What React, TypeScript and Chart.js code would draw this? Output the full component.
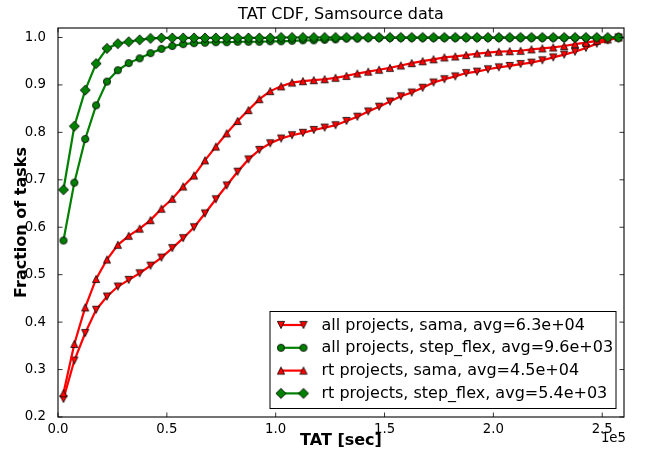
import React, { useEffect, useRef } from "react";
import { Chart, registerables } from "chart.js";

Chart.register(...registerables);

const TAT_SEC = [
  2500, 7500, 12500, 17500, 22500, 27500, 32500, 37500, 42500, 47500,
  52500, 57500, 62500, 67500, 72500, 77500, 82500, 87500, 92500, 97500,
  102500, 107500, 112500, 117500, 122500, 127500, 132500, 137500, 142500, 147500,
  152500, 157500, 162500, 167500, 172500, 177500, 182500, 187500, 192500, 197500,
  202500, 207500, 212500, 217500, 222500, 227500, 232500, 237500, 242500, 247500,
  252500, 257500,
];

const ALL_SAMA = [
  0.238, 0.319, 0.377, 0.426, 0.454, 0.475, 0.489, 0.503, 0.519, 0.536,
  0.556, 0.577, 0.600, 0.629, 0.659, 0.688, 0.717, 0.743, 0.763, 0.777,
  0.787, 0.794, 0.799, 0.805, 0.810, 0.815, 0.824, 0.833, 0.844, 0.854,
  0.865, 0.876, 0.884, 0.894, 0.905, 0.912, 0.918, 0.925, 0.928, 0.933,
  0.937, 0.940, 0.944, 0.947, 0.952, 0.958, 0.964, 0.970, 0.978, 0.987,
  0.994, 1.0,
];

const ALL_STEP_FLEX = [
  0.572, 0.694, 0.786, 0.857, 0.907, 0.931, 0.946, 0.956, 0.967, 0.976,
  0.982, 0.986, 0.988, 0.989, 0.990, 0.990, 0.991, 0.991, 0.991, 0.992,
  0.992, 0.993, 0.994, 0.994, 0.995, 0.996, 0.998, 0.998, 0.999, 0.999,
  0.999, 0.999, 0.999, 0.999, 0.999, 0.999, 0.999, 0.999, 0.999, 0.999,
  0.999, 0.999, 0.999, 0.999, 0.999, 0.999, 0.999, 0.999, 0.999, 0.999,
  0.999, 1.0,
];

const RT_SAMA = [
  0.250, 0.354, 0.431, 0.491, 0.532, 0.563, 0.582, 0.597, 0.615, 0.639,
  0.660, 0.686, 0.709, 0.741, 0.770, 0.798, 0.824, 0.847, 0.870, 0.887,
  0.897, 0.905, 0.908, 0.910, 0.912, 0.915, 0.919, 0.924, 0.928, 0.932,
  0.936, 0.941, 0.946, 0.950, 0.954, 0.958, 0.960, 0.963, 0.966, 0.968,
  0.970, 0.971, 0.972, 0.975, 0.977, 0.979, 0.982, 0.986, 0.989, 0.993,
  0.996, 1.0,
];

const RT_STEP_FLEX = [
  0.679, 0.813, 0.889, 0.945, 0.977, 0.987, 0.991, 0.995, 0.998, 0.999,
  0.999, 0.999, 0.999, 0.999, 0.999, 0.999, 0.999, 0.999, 0.999, 0.999,
  1.0, 1.0, 1.0, 1.0, 1.0, 1.0, 1.0, 1.0, 1.0, 1.0,
  1.0, 1.0, 1.0, 1.0, 1.0, 1.0, 1.0, 1.0, 1.0, 1.0,
  1.0, 1.0, 1.0, 1.0, 1.0, 1.0, 1.0, 1.0, 1.0, 1.0,
  1.0, 1.0,
];

const SERIES_LABELS = [
  "all projects, sama, avg=6.3e+04",
  "all projects, step_flex, avg=9.6e+03",
  "rt projects, sama, avg=4.5e+04",
  "rt projects, step_flex, avg=5.4e+03",
];

const X_TICKS = [0, 50000, 100000, 150000, 200000, 250000];
const Y_TICKS = [0.2, 0.3, 0.4, 0.5, 0.6, 0.7, 0.8, 0.9, 1.0];

const TITLE = "TAT CDF, Samsource data";
const X_LABEL = "TAT [sec]";
const Y_LABEL = "Fraction of tasks";
const X_OFFSET_TEXT = "1e5";

const RED = "#ff0000";
const GREEN = "#008000";
const FONT = "'DejaVu Sans', sans-serif";

function makeMarker(kind: string, fill: string): HTMLCanvasElement {
  const size = 14;
  const c = document.createElement("canvas");
  c.width = size;
  c.height = size;
  const g = c.getContext("2d")!;
  const cx = size / 2;
  const cy = size / 2;
  const ms = 7.2;
  g.beginPath();
  if (kind === "tri_up") {
    g.moveTo(cx, cy - ms / 2);
    g.lineTo(cx + ms / 2, cy + ms / 2);
    g.lineTo(cx - ms / 2, cy + ms / 2);
    g.closePath();
  } else if (kind === "tri_down") {
    g.moveTo(cx, cy + ms / 2);
    g.lineTo(cx + ms / 2, cy - ms / 2);
    g.lineTo(cx - ms / 2, cy - ms / 2);
    g.closePath();
  } else if (kind === "circle") {
    g.arc(cx, cy, ms / 2, 0, Math.PI * 2);
  } else {
    const h = ms * Math.SQRT1_2;
    g.moveTo(cx, cy - h);
    g.lineTo(cx + h, cy);
    g.lineTo(cx, cy + h);
    g.lineTo(cx - h, cy);
    g.closePath();
  }
  g.fillStyle = fill;
  g.fill();
  g.lineWidth = 0.8;
  g.strokeStyle = "#000";
  g.stroke();
  return c;
}

export default function App() {
  const ref = useRef<HTMLCanvasElement | null>(null);

  useEffect(() => {
    const canvas = ref.current;
    if (!canvas) return;

    const markers = [
      makeMarker("tri_down", RED),
      makeMarker("circle", GREEN),
      makeMarker("tri_up", RED),
      makeMarker("diamond", GREEN),
    ];
    const colors = [RED, GREEN, RED, GREEN];
    const values = [ALL_SAMA, ALL_STEP_FLEX, RT_SAMA, RT_STEP_FLEX];

    const datasets = values.map((vals, k) => ({
      label: SERIES_LABELS[k],
      data: TAT_SEC.map((x, i) => ({ x, y: vals[i] })),
      borderColor: colors[k],
      backgroundColor: colors[k],
      borderWidth: 2.2,
      pointStyle: markers[k] as any,
      pointRadius: 4,
      tension: 0,
      order: 4 - k,
    }));

    const decor = {
      id: "decor",
      afterDraw(chart: any) {
        const ctx = chart.ctx as CanvasRenderingContext2D;
        const { left, right, top, bottom } = chart.chartArea;
        const xs = chart.scales.x;
        const ys = chart.scales.y;
        ctx.save();
        ctx.strokeStyle = "#000";
        ctx.lineWidth = 0.8;
        const tl = 4.5;
        ctx.beginPath();
        X_TICKS.forEach((v) => {
          const px = xs.getPixelForValue(v);
          ctx.moveTo(px, bottom);
          ctx.lineTo(px, bottom - tl);
          ctx.moveTo(px, top);
          ctx.lineTo(px, top + tl);
        });
        Y_TICKS.forEach((v) => {
          const py = ys.getPixelForValue(v);
          ctx.moveTo(left, py);
          ctx.lineTo(left + tl, py);
          ctx.moveTo(right, py);
          ctx.lineTo(right - tl, py);
        });
        ctx.stroke();
        ctx.lineWidth = 1.1;
        ctx.strokeRect(left, top, right - left, bottom - top);

        ctx.fillStyle = "#000";
        ctx.font = `16px ${FONT}`;
        ctx.textAlign = "center";
        ctx.textBaseline = "alphabetic";
        ctx.fillText(TITLE, (left + right) / 2, top - 9);

        ctx.font = `bold 16px ${FONT}`;
        ctx.textBaseline = "middle";
        ctx.fillText(X_LABEL, (left + right) / 2, 441);
        ctx.save();
        ctx.translate(22, (top + bottom) / 2);
        ctx.rotate(-Math.PI / 2);
        ctx.fillText(Y_LABEL, 0, 0);
        ctx.restore();

        ctx.font = `13.3px ${FONT}`;
        ctx.textAlign = "right";
        ctx.textBaseline = "middle";
        ctx.fillText(X_OFFSET_TEXT, right + 2, 439);

        const lx0 = 270, ly0 = 311.5, lx1 = 616, ly1 = 408.5;
        ctx.fillStyle = "#fff";
        ctx.fillRect(lx0, ly0, lx1 - lx0, ly1 - ly0);
        ctx.strokeStyle = "#000";
        ctx.lineWidth = 1;
        ctx.strokeRect(lx0, ly0, lx1 - lx0, ly1 - ly0);
        const rows = [325, 347.8, 370.6, 393.4];
        ctx.font = `16px ${FONT}`;
        ctx.textAlign = "left";
        ctx.textBaseline = "middle";
        rows.forEach((ry, k) => {
          ctx.strokeStyle = colors[k];
          ctx.lineWidth = 2.2;
          ctx.beginPath();
          ctx.moveTo(281, ry);
          ctx.lineTo(303.5, ry);
          ctx.stroke();
          const m = markers[k];
          ctx.drawImage(m, 281 - m.width / 2, ry - m.height / 2);
          ctx.drawImage(m, 303.5 - m.width / 2, ry - m.height / 2);
          ctx.fillStyle = "#000";
          ctx.fillText(SERIES_LABELS[k], 321.5, ry + 0.5);
        });
        ctx.restore();
      },
    };

    const chart = new Chart(canvas, {
      type: "line",
      data: { datasets: datasets as any },
      options: {
        animation: false,
        responsive: false,
        devicePixelRatio: 1,
        layout: { padding: { top: 28, right: 23, left: 0, bottom: 0 } },
        plugins: {
          legend: { display: false },
          title: { display: false },
          tooltip: { enabled: false },
        },
        scales: {
          x: {
            type: "linear",
            min: 0,
            max: 260000,
            grid: { display: false },
            border: { display: false },
            ticks: {
              padding: -3,
              color: "#000",
              font: { family: FONT, size: 13.3 },
              maxRotation: 0,
              callback: (v: any) => (Number(v) / 1e5).toFixed(1),
            },
            afterBuildTicks: (s: any) => {
              s.ticks = X_TICKS.map((v) => ({ value: v }));
            },
            afterFit: (s: any) => {
              s.height = 43;
            },
          },
          y: {
            type: "linear",
            min: 0.2,
            max: 1.02,
            grid: { display: false },
            border: { display: false },
            ticks: {
              padding: 4,
              color: "#000",
              font: { family: FONT, size: 13.3 },
              callback: (v: any) => Number(v).toFixed(1),
            },
            afterBuildTicks: (s: any) => {
              s.ticks = Y_TICKS.map((v) => ({ value: v }));
            },
            afterFit: (s: any) => {
              s.width = 58;
            },
          },
        },
      },
      plugins: [decor],
    });

    return () => chart.destroy();
  }, []);

  return (
    <div style={{ position: "fixed", left: 0, top: 0, width: 647, height: 460, background: "#fff" }}>
      <canvas ref={ref} width={647} height={460} style={{ display: "block" }} />
    </div>
  );
}
